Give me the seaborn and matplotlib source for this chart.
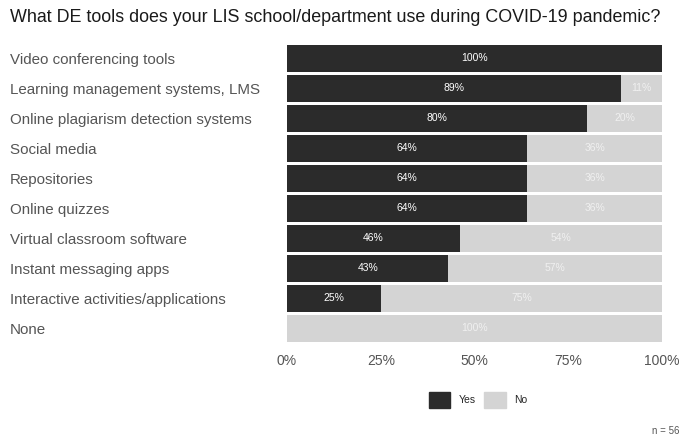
import numpy as np
import pandas as pd
import matplotlib.pyplot as plt
import seaborn as sns
from matplotlib.patches import Patch

# 資料
tools = ['Video conferencing tools', 'Learning management systems, LMS',
         'Online plagiarism detection systems', 'Social media', 'Repositories',
         'Online quizzes', 'Virtual classroom software', 'Instant messaging apps',
         'Interactive activities/applications', 'None']
yes_pct = [100, 89, 80, 64, 64, 64, 46, 43, 25, 0]
no_pct = [0, 11, 20, 36, 36, 36, 54, 57, 75, 100]

dark = '#2b2b2b'
light = '#d4d4d4'

sns.set_style('white')
plt.rcParams['font.family'] = ['Liberation Sans', 'DejaVu Sans']

df = pd.DataFrame({'tool': tools, 'yes': yes_pct, 'no': no_pct})
df['total'] = df['yes'] + df['no']

fig = plt.figure(figsize=(6.82, 4.36), dpi=100)
ax = fig.add_axes([0.4208, 0.2133, 0.55, 0.688])

# 先畫總長 (No), 再疊 Yes
sns.barplot(data=df, y='tool', x='total', color=light, width=0.9, ax=ax,
            saturation=1, orient='h', linewidth=0)
sns.barplot(data=df, y='tool', x='yes', color=dark, width=0.9, ax=ax,
            saturation=1, orient='h', linewidth=0)

for i, (y, n) in enumerate(zip(yes_pct, no_pct)):
    if y > 0:
        ax.text(y / 2, i, f'{y}%', ha='center', va='center', color='white', fontsize=7.5)
    if n > 0:
        ax.text(y + n / 2, i, f'{n}%', ha='center', va='center', color='#f0f0f0', fontsize=7.5)

ax.set_xlim(0, 100)
ax.set_ylim(9.5, -0.5)
ax.set_xticks([0, 25, 50, 75, 100])
ax.set_xticklabels(['0%', '25%', '50%', '75%', '100%'])
ax.set_xlabel('')
ax.set_ylabel('')
for s in ax.spines.values():
    s.set_visible(False)
ax.tick_params(axis='x', length=2, color='#aaaaaa', labelsize=10, labelcolor='#555555', pad=6)
ax.tick_params(axis='y', length=0, labelsize=10.9, labelcolor='#555555', pad=0)
for lab in ax.get_yticklabels():
    lab.set_horizontalalignment('left')
    lab.set_x(-0.4208 / 0.55 + 10 / 682 / 0.55)

fig.text(10 / 682, 1 - 17 / 436, 'What DE tools does your LIS school/department use during COVID-19 pandemic?',
         fontsize=12.9, color='#1a1a1a', va='center', ha='left')

handles = [Patch(facecolor=dark, edgecolor=dark), Patch(facecolor=light, edgecolor=light)]
fig.legend(handles, ['Yes', 'No'], loc='center', bbox_to_anchor=(478 / 682, 1 - 400 / 436),
           ncol=2, frameon=False, fontsize=7.5, handlelength=2.1, handleheight=2.1,
           columnspacing=0.7, handletextpad=0.85)

fig.text(1 - 3 / 682, 1 - 431 / 436, 'n = 56', fontsize=7, color='#555555', ha='right', va='center')

plt.savefig('out.png', dpi=100)
